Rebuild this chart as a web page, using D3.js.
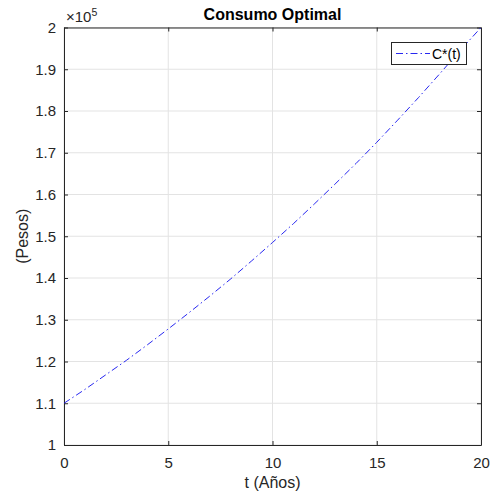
<!DOCTYPE html>
<html><head><meta charset="utf-8">
<script src="https://cdn.jsdelivr.net/npm/d3@7"></script>
<style>body{margin:0;background:#fff}svg{display:block}text{font-family:"Liberation Sans",Arial,sans-serif}</style>
</head><body>
<svg id="c" width="492" height="497"></svg>
<script>
const tYears = [0,1,2,3,4,5,6,7,8,9,10,11,12,13,14,15,16,17,18,19,20];
const consumo = [110000,113300,116800,120300,124000,127800,131700,135700,139800,144100,148500,153000,157700,162500,167400,172500,177800,183200,188800,194500,200000];
const xTicks = [0,5,10,15,20];
const yTicks = [1,1.1,1.2,1.3,1.4,1.5,1.6,1.7,1.8,1.9,2];
const seriesName = "C*(t)";
const titleText = "Consumo Optimal";
const xLabel = "t (Años)";
const yLabel = "(Pesos)";

const svg = d3.select("#c");
const L=64, R=481, T=27.5, B=445;
const x = d3.scaleLinear().domain([0,20]).range([L,R]);
const y = d3.scaleLinear().domain([1,2]).range([B,T]);
const axCol = "#262626", gridCol="#e3e3e3";

// grid
svg.append("g").selectAll("line").data(xTicks).join("line")
  .attr("x1",d=>x(d)).attr("x2",d=>x(d)).attr("y1",T).attr("y2",B)
  .attr("stroke",gridCol).attr("stroke-width",1);
svg.append("g").selectAll("line").data(yTicks).join("line")
  .attr("x1",L).attr("x2",R).attr("y1",d=>y(d)).attr("y2",d=>y(d))
  .attr("stroke",gridCol).attr("stroke-width",1);

// axes
const fmt = d=>d3.format("~g")(d);
const gx = svg.append("g").attr("transform",`translate(0,${B})`)
  .call(d3.axisBottom(x).tickValues(xTicks).tickFormat(fmt).tickSizeInner(-4).tickSizeOuter(0).tickPadding(12));
const gxt = svg.append("g").attr("transform",`translate(0,${T})`)
  .call(d3.axisTop(x).tickValues(xTicks).tickFormat("").tickSizeInner(-4).tickSizeOuter(0));
const gy = svg.append("g").attr("transform",`translate(${L},0)`)
  .call(d3.axisLeft(y).tickValues(yTicks).tickFormat(fmt).tickSizeInner(-4).tickSizeOuter(0).tickPadding(8));
const gyr = svg.append("g").attr("transform",`translate(${R},0)`)
  .call(d3.axisRight(y).tickValues(yTicks).tickFormat("").tickSizeInner(-4).tickSizeOuter(0));
[gx,gxt,gy,gyr].forEach(g=>{
  g.selectAll("path").attr("stroke",axCol).attr("stroke-width",1);
  g.selectAll("line").attr("stroke",axCol);
  g.selectAll("text").attr("fill",axCol).style("font-size","15px").style("font-family",'"Liberation Sans",Arial,sans-serif');
});
gx.selectAll("text").attr("dy","0.71em");

// line
const line = d3.line().x((d,i)=>x(tYears[i])).y(d=>y(d/1e5));
svg.append("path").datum(consumo).attr("d",line).attr("fill","none")
  .attr("stroke","#1010ee").attr("stroke-width",0.9).attr("stroke-dasharray","7,3,1.5,3");

// exponent
const ex = svg.append("text").attr("x",L+2).attr("y",22).attr("fill",axCol).style("font-size","15px");
ex.append("tspan").text("×10");
ex.append("tspan").attr("dy",-6).style("font-size","10.5px").text("5");

// title
svg.append("text").attr("x",(L+R)/2).attr("y",20).attr("text-anchor","middle")
  .style("font-size","16px").style("font-weight","bold").attr("fill","#000").text(titleText);
// labels
svg.append("text").attr("x",(L+R)/2).attr("y",488).attr("text-anchor","middle")
  .style("font-size","16px").attr("fill",axCol).text(xLabel);
svg.append("text").attr("transform",`translate(28,${(T+B)/2}) rotate(-90)`).attr("text-anchor","middle")
  .style("font-size","16px").attr("fill",axCol).text(yLabel);

// legend
const lg = svg.append("g");
lg.append("rect").attr("x",391.5).attr("y",42.5).attr("width",75).attr("height",22)
  .attr("fill","#fff").attr("stroke",axCol).attr("stroke-width",1);
lg.append("line").attr("x1",396).attr("x2",430).attr("y1",53.5).attr("y2",53.5)
  .attr("stroke","#1010ee").attr("stroke-width",0.9).attr("stroke-dasharray","7,3,1.5,3");
lg.append("text").attr("x",432).attr("y",58.5).style("font-size","14px").attr("fill","#000").text(seriesName);
</script>
</body></html>
